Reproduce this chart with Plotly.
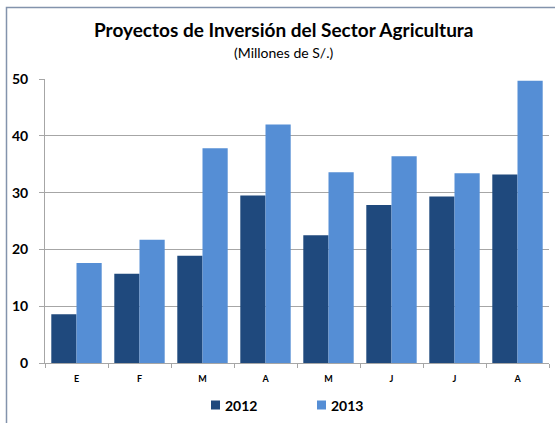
import plotly.graph_objects as go

months = ["E", "F", "M", "A", "M", "J", "J", "A"]
series_names = ["2012", "2013"]
values_2012 = [8.6, 15.7, 18.9, 29.5, 22.5, 27.8, 29.3, 33.2]
values_2013 = [17.6, 21.7, 37.8, 42.0, 33.6, 36.4, 33.4, 49.7]
y_ticks = [0, 10, 20, 30, 40, 50]

title = "Proyectos de Inversión del Sector Agricultura"
subtitle = "(Millones de S/.)"

FONT = "Lato"
DARK = "#1F497D"
LIGHT = "#558ED5"
GRID = "#A6A6A6"
colors = [DARK, LIGHT]

x_pos = list(range(len(months)))

fig = go.Figure()
for name, vals, col in zip(series_names, [values_2012, values_2013], colors):
    fig.add_trace(go.Bar(x=x_pos, y=vals, name=name,
                         marker=dict(color=col, line=dict(width=0))))

L, R, T, B = 45, 6, 79, 60
W, H = 555, 423
pw, ph = W - L - R, H - T - B

def px_x(p):
    return (p - L) / pw

def px_y(p):
    return (H - B - p) / ph

shapes = [dict(type="rect", xref="paper", yref="paper",
               x0=px_x(6.5), x1=px_x(565), y0=px_y(440), y1=px_y(7.5),
               line=dict(color="#8393AC", width=1.5), fillcolor="rgba(0,0,0,0)", layer="above")]
annotations = [
    dict(text="<b>" + title + "</b>", xref="paper", yref="paper", x=px_x(283), y=px_y(30),
         xanchor="center", yanchor="middle", showarrow=False,
         font=dict(family=FONT, size=19, color="#000")),
    dict(text=subtitle, xref="paper", yref="paper", x=px_x(283), y=px_y(53),
         xanchor="center", yanchor="middle", showarrow=False,
         font=dict(family=FONT, size=14, color="#000")),
]
# manual legend
legend_x = [211, 317]
for name, col, lx in zip(series_names, colors, legend_x):
    shapes.append(dict(type="rect", xref="paper", yref="paper",
                       x0=px_x(lx), x1=px_x(lx + 9), y0=px_y(409.5), y1=px_y(400.5),
                       line=dict(width=0), fillcolor=col, layer="above"))
    annotations.append(dict(text="<b>" + name + "</b>", xref="paper", yref="paper",
                            x=px_x(lx + 12), y=px_y(405), xanchor="left", yanchor="middle",
                            showarrow=False, font=dict(family=FONT, size=14, color="#000")))

fig.update_layout(
    width=W, height=H,
    margin=dict(l=L, r=R, t=T, b=B),
    paper_bgcolor="white", plot_bgcolor="white",
    font=dict(family=FONT, color="#000000"),
    barmode="group", bargap=0.2, bargroupgap=0,
    showlegend=False,
    xaxis=dict(range=[-0.5, len(months) - 0.5], tickmode="array", tickvals=x_pos, ticktext=months,
               ticks="", showgrid=False, showline=True, linecolor=GRID, linewidth=1,
               tickfont=dict(family=FONT, size=9, color="#000", weight="bold"),
               ticklabelstandoff=7,
               minor=dict(tickvals=[i - 0.5 for i in range(len(months) + 1)], ticks="outside",
                          ticklen=4, tickcolor=GRID, showgrid=False),
               zeroline=False, fixedrange=True),
    yaxis=dict(range=[y_ticks[0], y_ticks[-1]], tickmode="array", tickvals=y_ticks,
               showgrid=True, gridcolor=GRID, gridwidth=1, showline=True, linecolor=GRID,
               ticks="outside", ticklen=5, tickcolor=GRID, zeroline=False,
               tickfont=dict(family=FONT, size=14, color="#000", weight="bold"),
               ticklabelstandoff=8, fixedrange=True),
    shapes=shapes,
    annotations=annotations,
)

fig.write_html("out.html", config={"displayModeBar": False},
               post_script="document.body.style.margin='0';document.body.style.overflow='hidden';")
